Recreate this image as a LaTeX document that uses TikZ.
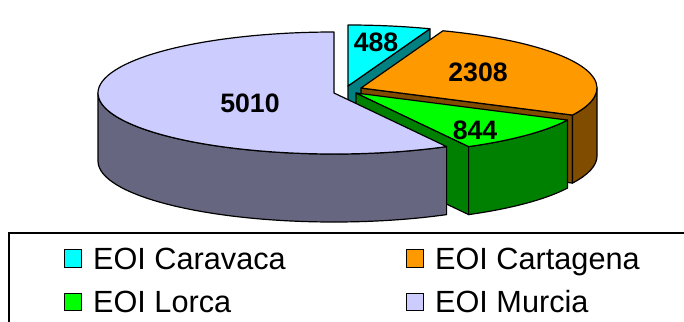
\documentclass[tikz,border=0pt]{standalone}
\usepackage{fontspec}
\setmainfont{Liberation Sans}
\usetikzlibrary{positioning}

\definecolor{caravaca}{RGB}{0,255,255}
\definecolor{caravaca side}{RGB}{0,128,128}
\definecolor{cartagena}{RGB}{255,153,0}
\definecolor{cartagena side}{RGB}{128,76,0}
\definecolor{lorca}{RGB}{0,255,0}
\definecolor{lorca side}{RGB}{0,128,0}
\definecolor{murcia}{RGB}{204,204,255}
\definecolor{murcia side}{RGB}{102,102,128}

\begin{document}
\begin{tikzpicture}[x=0.75pt,y=-0.75pt,slice/.style={draw=black,line width=0.9pt,line join=round},value/.style={font=\fontsize{20}{24}\selectfont\bfseries,inner sep=0pt},key/.style={rectangle,draw=black,line width=0.8pt,minimum size=13pt,inner sep=0pt},legtext/.style={font=\fontsize{23}{27}\selectfont,inner sep=0pt,text height=16.4pt,text depth=0pt}]

	\clip (0,0) rectangle (684,321);

	\coordinate (c-caravaca) at (348,86);
	\coordinate (c-cartagena) at (361,88);
	\coordinate (c-lorca) at (356,93);
	\coordinate (c-murcia) at (334,93);

	% Caravaca
	\draw[slice, fill=caravaca side] (c-caravaca) -- ++(-69.69:236 and 61) -- ++(0,68) -- ++(110.31:236 and 61) -- cycle;
	\draw[slice, fill=caravaca] (c-caravaca) -- ++(-90:236 and 61) arc[start angle=-90, end angle=-69.69, x radius=236, y radius=61] -- cycle;

	% Cartagena
	\draw[slice, fill=cartagena side] (c-cartagena) -- ++(26.36:236 and 61) -- ++(0,68) -- ++(206.36:236 and 61) -- cycle;
	\draw[slice, fill=cartagena side] (c-cartagena) ++(0:236 and 61) arc[start angle=0, end angle=26.36, x radius=236, y radius=61] -- ++(0,68) arc[start angle=26.36, end angle=0, x radius=236, y radius=61] -- cycle;
	\draw[slice, fill=cartagena] (c-cartagena) -- ++(-69.69:236 and 61) arc[start angle=-69.69, end angle=26.36, x radius=236, y radius=61] -- cycle;

	% Lorca, cut face
	\draw[slice, fill=lorca side] (c-lorca) -- ++(61.49:236 and 61) -- ++(0,68) -- ++(241.49:236 and 61) -- cycle;

	% Murcia
	\draw[slice, fill=murcia side] (c-murcia) ++(61.49:236 and 61) arc[start angle=61.49, end angle=180, x radius=236, y radius=61] -- ++(0,68) arc[start angle=180, end angle=61.49, x radius=236, y radius=61] -- cycle;
	\draw[slice, fill=murcia] (c-murcia) -- ++(61.49:236 and 61) arc[start angle=61.49, end angle=270, x radius=236, y radius=61] -- cycle;

	% Lorca
	\draw[slice, fill=lorca side] (c-lorca) ++(26.36:236 and 61) arc[start angle=26.36, end angle=61.49, x radius=236, y radius=61] -- ++(0,68) arc[start angle=61.49, end angle=26.36, x radius=236, y radius=61] -- cycle;
	\draw[slice, fill=lorca] (c-lorca) -- ++(26.36:236 and 61) arc[start angle=26.36, end angle=61.49, x radius=236, y radius=61] -- cycle;

	\node[value] (val-caravaca) at (376,42) {488};
	\node[value] (val-cartagena) at (478,72) {2308};
	\node[value] (val-lorca) at (475,130) {844};
	\node[value] (val-murcia) at (250,103) {5010};

	% legend
	\draw[line width=0.8pt] (9,233) rectangle (700,340);

	\node[key, fill=caravaca] (key-caravaca) at (73,258.5) {};
	\node[legtext, right = 8pt of key-caravaca] (txt-caravaca) {EOI Caravaca};
	\node[key, fill=cartagena] (key-cartagena) at (415,258.5) {};
	\node[legtext, right = 8pt of key-cartagena] (txt-cartagena) {EOI Cartagena};
	\node[key, fill=lorca] (key-lorca) at (73,302) {};
	\node[legtext, right = 8pt of key-lorca] (txt-lorca) {EOI Lorca};
	\node[key, fill=murcia] (key-murcia) at (415,302) {};
	\node[legtext, right = 8pt of key-murcia] (txt-murcia) {EOI Murcia};

\end{tikzpicture}
\end{document}
